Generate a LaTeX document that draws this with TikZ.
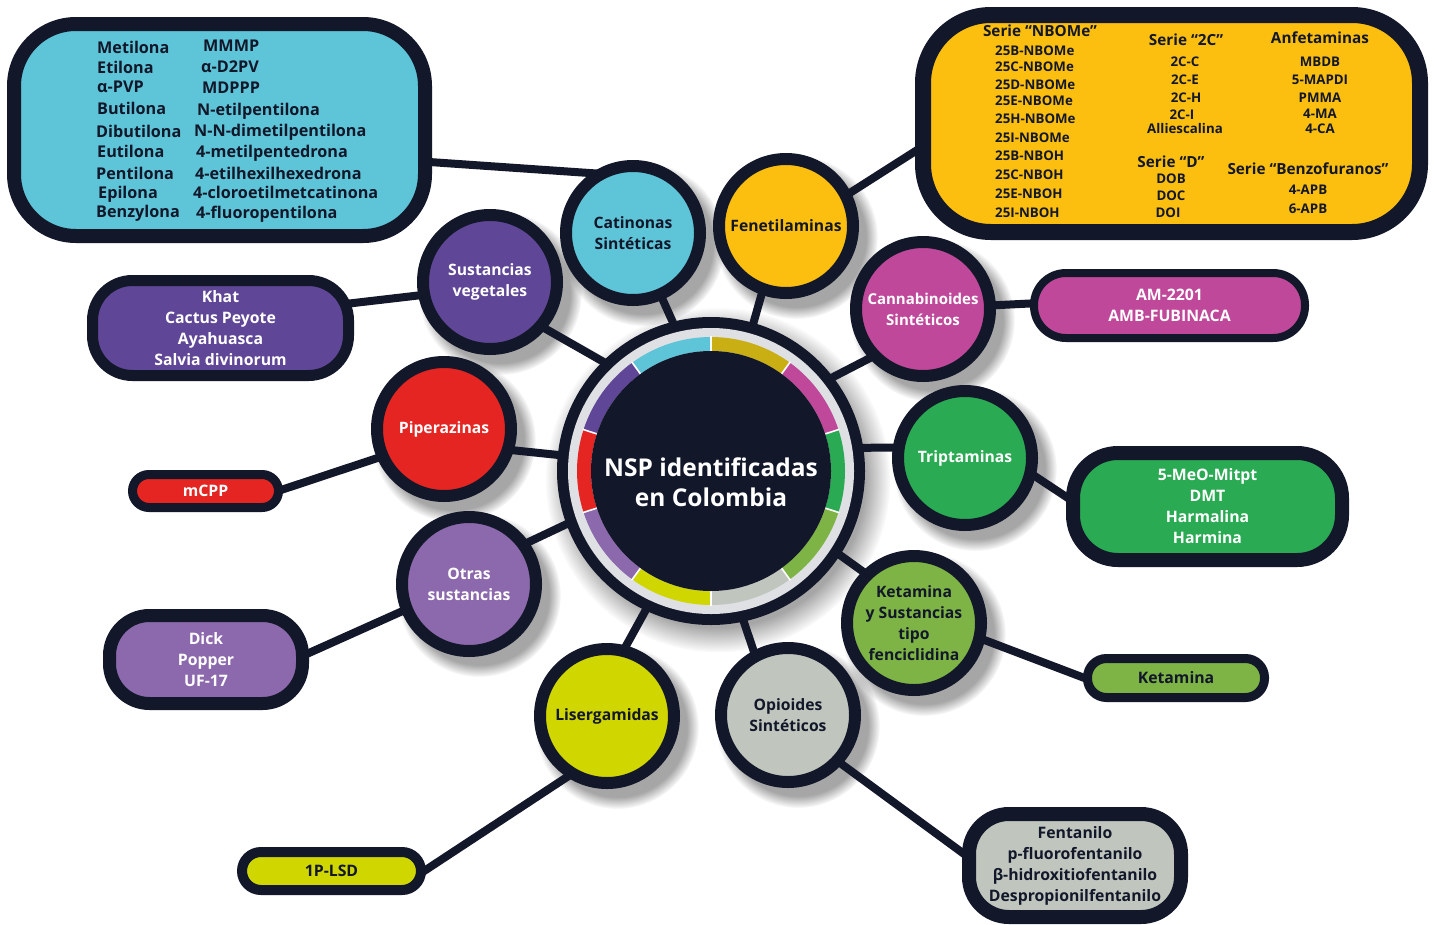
\documentclass[tikz,border=0pt]{standalone}
\usepackage{fontspec}
\setmainfont{Open Sans}
\usetikzlibrary{shadows,fadings}
\definecolor{dark}{HTML}{121729}
\definecolor{cyanc}{HTML}{5EC4D8}
\definecolor{yellowc}{HTML}{FCBF10}
\definecolor{ringgold}{HTML}{C9AF14}
\definecolor{magc}{HTML}{C0489A}
\definecolor{greenc}{HTML}{2AAA53}
\definecolor{lgreenc}{HTML}{7DB445}
\definecolor{grayc}{HTML}{C0C6BE}
\definecolor{limec}{HTML}{D0D600}
\definecolor{lpurp}{HTML}{8C69AC}
\definecolor{redc}{HTML}{E42521}
\definecolor{purp}{HTML}{5F4696}
\definecolor{ringgray}{HTML}{DFE0E4}
\pgfdeclarelayer{bg}
\pgfdeclarelayer{lines}
\pgfsetlayers{bg,lines,main}
\begin{document}
\begin{tikzpicture}[x=1pt,y=1pt,
  circ/.style={circle, draw=dark, line width=12pt, minimum size=134pt, inner sep=0pt, outer sep=0pt, align=center, font=\fontsize{15.7}{21}\selectfont\bfseries},
  conn/.style={draw=dark, line width=8pt},
  box/.style={rectangle, draw=dark, inner sep=0pt, outer sep=0pt, align=center, font=\fontsize{15.8}{21}\selectfont\bfseries},
  litem/.style={inner sep=0pt, anchor=west, font=\fontsize{16.2}{20}\selectfont\bfseries, text=dark},
  yitem/.style={inner sep=0pt, font=\fontsize{13.3}{16}\selectfont\bfseries, text=dark},
  yhead/.style={inner sep=0pt, font=\fontsize{15.3}{18}\selectfont\bfseries, text=dark},
  shad/.style={circular drop shadow={shadow xshift=9pt, shadow yshift=-10pt, shadow scale=1.12, fill=black, opacity=0.35}},
]
\useasboundingbox (0,0) rectangle (1435,-924);
\begin{pgfonlayer}{bg}
\fill[white] (0,0) rectangle (1435,-924);
\end{pgfonlayer}

% ---------- central circle ----------
\coordinate (c0) at (711,-471);
\node[circle, minimum size=296pt, inner sep=0pt, outer sep=0pt] (nsp) at (c0) {};
\fill[dark] (nsp.center) circle (154);
\fill[ringgray] (nsp.center) circle (143);
\draw[cyanc, line width=14pt] (nsp.center) ++(90:127) arc (90:126:127);
\draw[ringgold, line width=14pt] (nsp.center) ++(54:127) arc (54:90:127);
\draw[magc, line width=14pt] (nsp.center) ++(18:127) arc (18:54:127);
\draw[greenc, line width=14pt] (nsp.center) ++(-18:127) arc (-18:18:127);
\draw[lgreenc, line width=14pt] (nsp.center) ++(-54:127) arc (-54:-18:127);
\draw[grayc, line width=14pt] (nsp.center) ++(-90:127) arc (-90:-54:127);
\draw[limec, line width=14pt] (nsp.center) ++(-126:127) arc (-126:-90:127);
\draw[lpurp, line width=14pt] (nsp.center) ++(-162:127) arc (-162:-126:127);
\draw[redc, line width=14pt] (nsp.center) ++(162:127) arc (162:198:127);
\draw[purp, line width=14pt] (nsp.center) ++(126:127) arc (126:162:127);
\foreach \a in {18,54,90,126,162,198,234,270,306,342}
  \draw[white, line width=1.6pt] (nsp.center) ++(\a:119) -- ++(\a:16);
\fill[dark] (nsp.center) circle (120);
\node[text=white, font=\fontsize{24.5}{30}\selectfont\bfseries, align=center, inner sep=0pt] (title) at (711,-482) {NSP identificadas\\en Colombia};

% ---------- category circles ----------
\node[circ, fill=cyanc, text=dark] (cat) at (633,-233) {Catinonas\\Sintéticas};
\node[circ, fill=yellowc, text=dark] (fen) at (786,-226) {Fenetilaminas};
\node[circ, fill=magc, text=white, font=\fontsize{15}{21}\selectfont\bfseries] (can) at (923,-309) {Cannabinoides\\Sintéticos};
\node[circ, fill=greenc, text=white] (tri) at (965,-458) {Triptaminas};
\node[circ, fill=lgreenc, text=dark] (ket) at (914,-623) {Ketamina\\y Sustancias\\tipo\\fenciclidina};
\node[circ, fill=grayc, text=dark] (opi) at (788,-715) {Opioides\\Sintéticos};
\node[circ, fill=limec, text=dark] (lis) at (607,-716) {Lisergamidas};
\node[circ, fill=lpurp, text=white] (otr) at (469,-584) {Otras\\sustancias};
\node[circ, fill=redc, text=white] (pip) at (444,-429) {Piperazinas};
\node[circ, fill=purp, text=white] (veg) at (490,-282) {Sustancias\\vegetales};

% ---------- boxes ----------
\node[box, fill=cyanc, line width=14pt, rounded corners=62pt, minimum width=411pt, minimum height=212pt] (bcat) at (219.5,-130) {};
\node[box, fill=yellowc, line width=16pt, rounded corners=68pt, minimum width=497pt, minimum height=217pt] (bfen) at (1171.5,-123.5) {};
\node[box, fill=magc, text=white, line width=8pt, rounded corners=32pt, minimum width=271pt, minimum height=65pt] (bcan) at (1169.5,-305.5) {AM-2201\\AMB-FUBINACA};
\node[box, fill=greenc, text=white, line width=14pt, rounded corners=45pt, minimum width=269pt, minimum height=107pt] (btri) at (1207.5,-506.5) {5-MeO-Mitpt\\DMT\\Harmalina\\Harmina};
\node[box, fill=lgreenc, text=dark, line width=9pt, rounded corners=19pt, minimum width=177pt, minimum height=39pt] (bket) at (1176,-678) {Ketamina};
\node[box, fill=grayc, text=dark, line width=14pt, rounded corners=40pt, minimum width=212pt, minimum height=103pt] (bopi) at (1075,-865.5) {Fentanilo\\p-fluorofentanilo\\β-hidroxitiofentanilo\\Despropionilfentanilo};
\node[box, fill=limec, text=dark, line width=10pt, rounded corners=19pt, minimum width=179pt, minimum height=38pt] (blis) at (331.5,-871) {1P-LSD};
\node[box, fill=lpurp, text=white, line width=13pt, rounded corners=40pt, minimum width=193pt, minimum height=88pt] (botr) at (206,-659.5) {Dick\\Popper\\UF-17};
\node[box, fill=redc, text=white, line width=9pt, rounded corners=16.5pt, minimum width=146pt, minimum height=33pt] (bpip) at (205.5,-491) {mCPP};
\node[box, fill=purp, text=white, line width=11pt, rounded corners=40pt, minimum width=256pt, minimum height=95pt] (bveg) at (220.5,-328) {Khat\\Cactus Peyote\\Ayahuasca\\Salvia divinorum};

% ---------- cyan box contents ----------
\node[litem] (m1) at (97,-47) {Metilona};
\node[litem] (m2) at (97,-67) {Etilona};
\node[litem] (m3) at (97,-87) {α-PVP};
\node[litem] (m4) at (97,-108) {Butilona};
\node[litem] (m5) at (96,-131) {Dibutilona};
\node[litem] (m6) at (97,-151) {Eutilona};
\node[litem] (m7) at (96,-173) {Pentilona};
\node[litem] (m8) at (98,-194) {Epilona};
\node[litem] (m9) at (96,-213) {Benzylona};
\node[litem] (n1) at (203,-46) {MMMP};
\node[litem] (n2) at (201,-67) {α-D2PV};
\node[litem] (n3) at (202,-88) {MDPPP};
\node[litem] (n4) at (197,-111) {N-etilpentilona};
\node[litem] (n5) at (194,-132) {N-N-dimetilpentilona};
\node[litem] (n6) at (196,-153) {4-metilpentedrona};
\node[litem] (n7) at (195,-173) {4-etilhexilhexedrona};
\node[litem] (n8) at (193,-192) {4-cloroetilmetcatinona};
\node[litem] (n9) at (196,-214) {4-fluoropentilona};

% ---------- yellow box contents ----------
\node[yhead] (h1) at (1040,-31) {Serie “NBOMe”};
\node[yitem, anchor=west] (y1) at (995,-51) {25B-NBOMe};
\node[yitem, anchor=west] (y2) at (995,-67) {25C-NBOMe};
\node[yitem, anchor=west] (y3) at (995,-85) {25D-NBOMe};
\node[yitem, anchor=west] (y4) at (995,-101) {25E-NBOMe};
\node[yitem, anchor=west] (y5) at (995,-119) {25H-NBOMe};
\node[yitem, anchor=west] (y6) at (995,-138) {25I-NBOMe};
\node[yitem, anchor=west] (y7) at (995,-156) {25B-NBOH};
\node[yitem, anchor=west] (y8) at (995,-175) {25C-NBOH};
\node[yitem, anchor=west] (y9) at (995,-194) {25E-NBOH};
\node[yitem, anchor=west] (y10) at (995,-213) {25I-NBOH};
\node[yhead] (h2) at (1186,-40) {Serie “2C”};
\node[yitem] (z1) at (1185,-62) {2C-C};
\node[yitem] (z2) at (1185,-80) {2C-E};
\node[yitem] (z3) at (1186,-98) {2C-H};
\node[yitem] (z4) at (1182,-115) {2C-I};
\node[yitem] (z5) at (1185,-129) {Alliescalina};
\node[yhead] (h3) at (1171,-162) {Serie “D”};
\node[yitem] (d1) at (1171,-179) {DOB};
\node[yitem] (d2) at (1171,-196) {DOC};
\node[yitem] (d3) at (1168,-213) {DOI};
\node[yhead] (h4) at (1320,-38) {Anfetaminas};
\node[yitem] (a1) at (1320,-62) {MBDB};
\node[yitem] (a2) at (1320,-80) {5-MAPDI};
\node[yitem] (a3) at (1320,-98) {PMMA};
\node[yitem] (a4) at (1320,-114) {4-MA};
\node[yitem] (a5) at (1320,-129) {4-CA};
\node[yhead] (h5) at (1308,-169) {Serie “Benzofuranos”};
\node[yitem] (b1) at (1308,-190) {4-APB};
\node[yitem] (b2) at (1308,-209) {6-APB};

% ---------- box connector ends ----------
\coordinate (pcat) at (425,-161.7);
\coordinate (pveg) at (345,-304);
\coordinate (ppip) at (275,-492);
\coordinate (potr) at (300,-657);
\coordinate (plis) at (415,-877);
\coordinate (popi) at (975,-862);
\coordinate (pket) at (1095,-682);
\coordinate (ptri) at (1080,-506);
\coordinate (pcan) at (1040,-303);
\coordinate (pfen) at (925,-145);

% ---------- shadows ----------
\begin{pgfonlayer}{bg}
\path[circular drop shadow={shadow xshift=6pt, shadow yshift=-8pt, shadow scale=1.12, fill=black, opacity=0.35}] (nsp.center) circle (154);
\foreach \n in {cat,fen,can,tri,ket,opi,lis,otr,pip,veg}
  \path[shad] (\n.center) circle (73);
\end{pgfonlayer}

% ---------- connectors ----------
\begin{pgfonlayer}{lines}
\draw[conn] (nsp.104.7) -- (cat.-66.6);
\draw[conn] (nsp.74.6) -- (fen.-110.1);
\draw[conn] (nsp.38.2) -- (can.-136);
\draw[conn] (nsp.9) -- (tri.171.3);
\draw[conn] (nsp.-33) -- (ket.134);
\draw[conn] (nsp.-78.6) -- (opi.119.2);
\draw[conn] (nsp.-115.7) -- (lis.76);
\draw[conn] (nsp.-160.4) -- (otr.36);
\draw[conn] (nsp.174.7) -- (pip.-18.4);
\draw[conn] (nsp.134.5) -- (veg.-41.8);
\draw[conn] (pcat) -- (cat.118);
\draw[conn] (pveg) -- (veg.-169.8);
\draw[conn] (ppip) -- (pip.-156);
\draw[conn] (potr) -- (otr.-158);
\draw[conn] (plis) -- (lis.-121.2);
\draw[conn] (popi) -- (opi.-43.4);
\draw[conn] (pket) -- (ket.-13.5);
\draw[conn] (ptri) -- (tri.-13.6);
\draw[conn] (pcan) -- (can.3);
\draw[conn] (pfen) -- (fen.27.3);
\end{pgfonlayer}
\end{tikzpicture}
\end{document}
